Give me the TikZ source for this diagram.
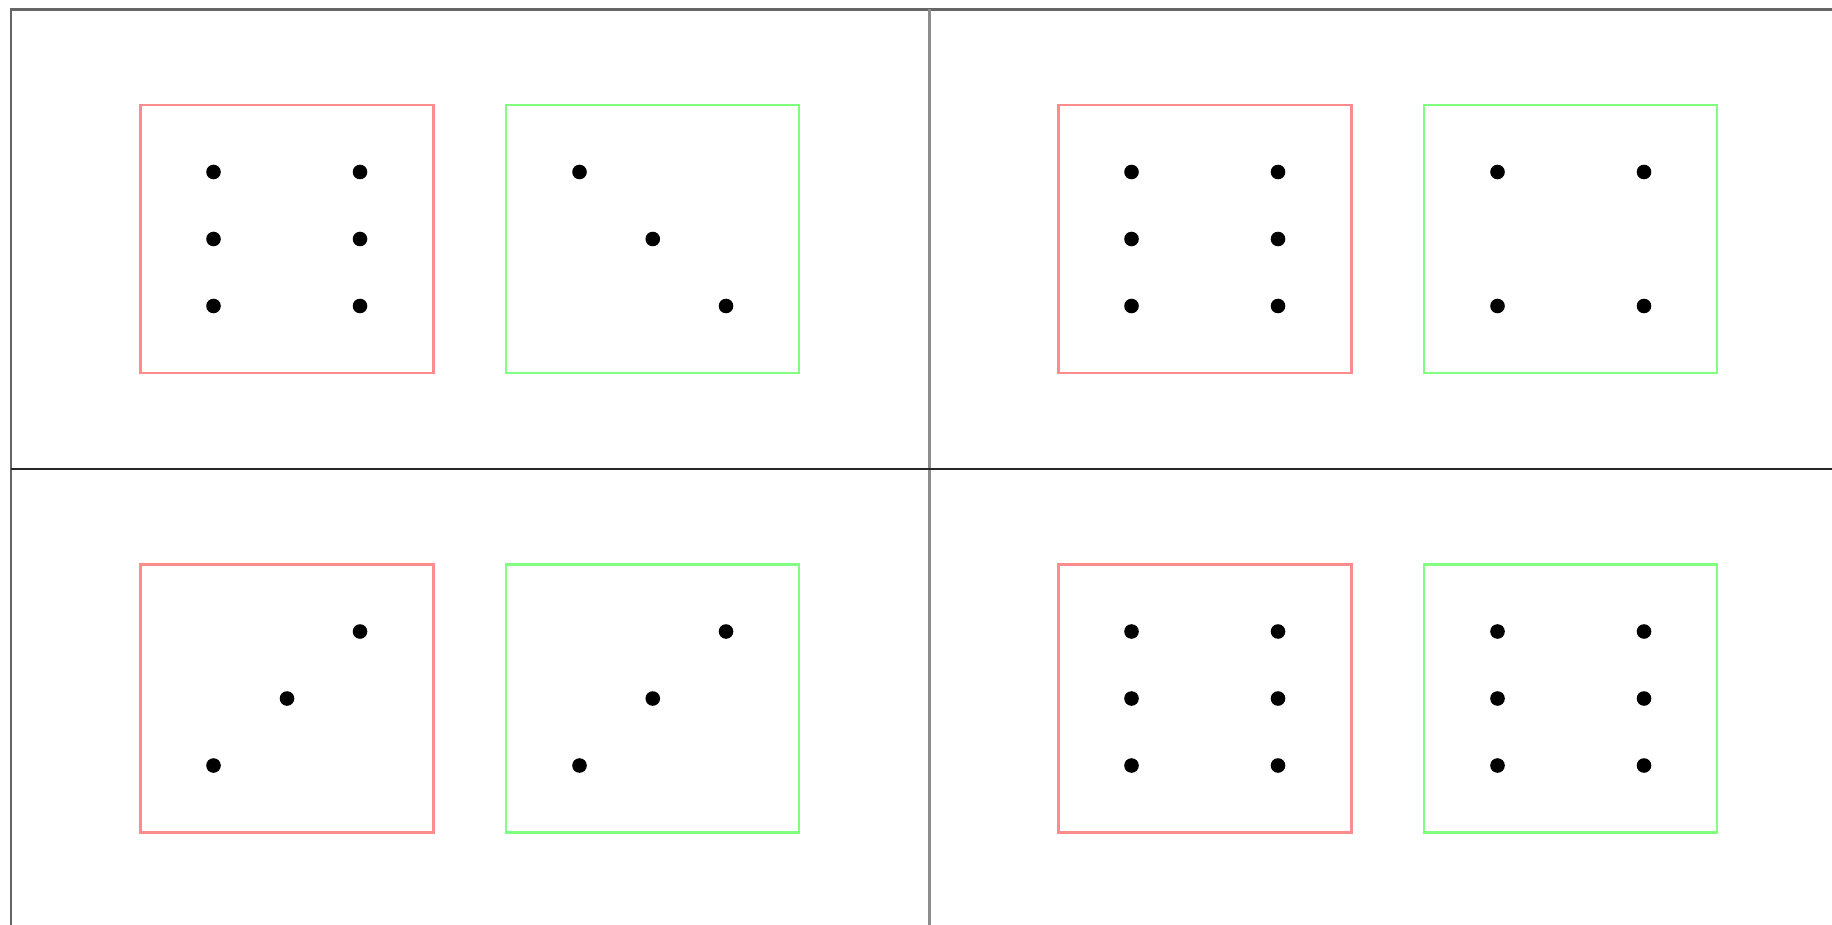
\documentclass[tikz,border=0pt]{standalone}
\begin{document}
\begin{tikzpicture}[x=1pt,y=-1pt,
  frameline/.style={draw=black!60,line width=2.2pt},
  midline/.style={draw=black!45,line width=3pt},
  hline/.style={draw=black!85,line width=2.2pt},
  redbox/.style={draw=red!45,line width=2.5pt},
  greenbox/.style={draw=green!50,line width=2.5pt},
  dotmark/.style={fill=black}]
\useasboundingbox (0,0) rectangle (1832,925);
\fill[white] (0,0) rectangle (1832,925);
% frame
\draw[frameline] (11,925) -- (11,9.5) -- (1832,9.5);
\draw[midline] (929,9.5) -- (929,925);
\draw[hline] (11,469) -- (1832,469);
% panels
\foreach \dx/\dy/\kind in {0/0/1, 918/0/2, 0/459.5/3, 918/459.5/4}{
  \begin{scope}[shift={(\dx,\dy)}]
    \draw[redbox] (140.5,105) rectangle (433.5,373);
    \draw[greenbox] (506,105) rectangle (799,373);
    \ifnum\kind=3
      \foreach \p in {(213.5,306),(287,239),(360,172)} \fill[dotmark] \p circle (7.3pt);
      \foreach \p in {(579.5,306),(652.75,239),(726,172)} \fill[dotmark] \p circle (7.3pt);
    \else
      \foreach \xx in {213.5,360} \foreach \yy in {172,239,306} \fill[dotmark] (\xx,\yy) circle (7.3pt);
      \ifnum\kind=1
        \foreach \p in {(579.5,172),(652.75,239),(726,306)} \fill[dotmark] \p circle (7.3pt);
      \fi
      \ifnum\kind=2
        \foreach \xx in {579.5,726} \foreach \yy in {172,306} \fill[dotmark] (\xx,\yy) circle (7.3pt);
      \fi
      \ifnum\kind=4
        \foreach \xx in {579.5,726} \foreach \yy in {172,239,306} \fill[dotmark] (\xx,\yy) circle (7.3pt);
      \fi
    \fi
  \end{scope}
}
\end{tikzpicture}
\end{document}
